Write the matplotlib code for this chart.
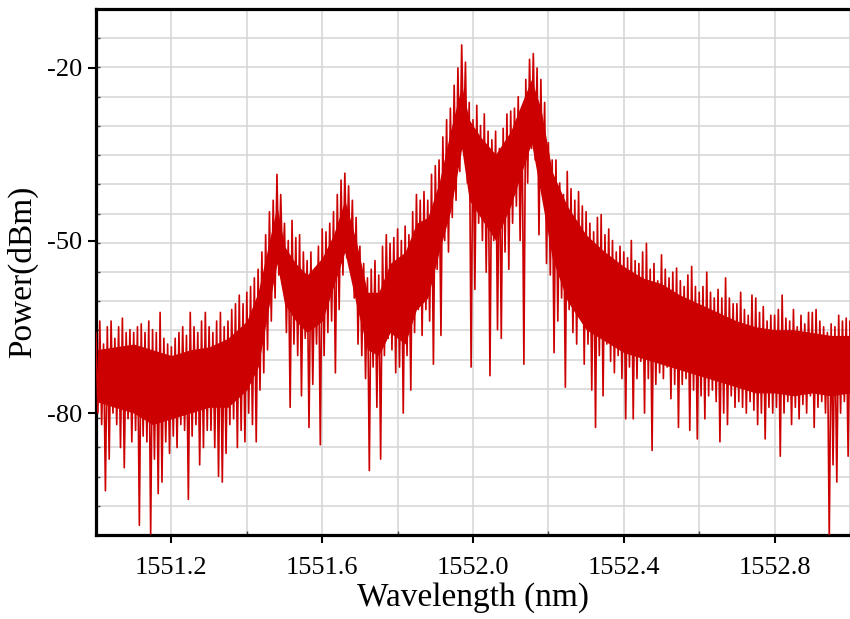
import numpy as np
import matplotlib
matplotlib.use("Agg")
import matplotlib.pyplot as plt
from matplotlib.ticker import FixedLocator, MultipleLocator

# spectrum: upper and lower edge of the noisy trace,
# one pair every 0.01 nm from 1551.00 to 1553.00 nm
p_hi = [
    -66, -64, -68, -65, -64, -67, -65, -63.5, -66, -65.5,
    -66, -65, -64.5, -66, -64, -65.5, -66, -62.5, -67, -68,
    -68.5, -67, -66, -65, -66.5, -62.5, -65, -66, -64, -62.5,
    -65, -66, -64, -62.5, -65, -64, -62, -61, -59.5, -61,
    -59, -58, -56.5, -55, -52, -49, -45, -43, -38.5, -42,
    -47, -50, -46.5, -49.5, -49, -52, -53.5, -52, -55, -51,
    -48, -48.5, -47, -45, -42, -39.5, -38.3, -40.5, -43, -46,
    -51, -54, -56.5, -55, -53.5, -56, -51, -49, -50.5, -49.5,
    -48, -50, -47.5, -49, -45, -42, -43, -41.5, -43, -38.5,
    -37, -36, -32, -29, -27, -23, -20, -16, -19, -26,
    -29, -26.5, -30, -28, -31, -32.5, -31, -34, -30.5, -28,
    -27.5, -27, -25, -28, -22, -18.5, -17.5, -20, -22, -26,
    -33, -36, -36, -40, -42, -38, -41, -43, -41.5, -44,
    -45, -47, -48.5, -46, -45.5, -49, -48, -50, -52, -51,
    -52, -53, -50, -53.5, -54, -52, -50.5, -55, -54, -57,
    -52.5, -55, -56.5, -55.5, -54.8, -57, -58, -56, -54.5, -58,
    -59, -58, -55.5, -59, -60, -58.5, -60, -56.5, -60, -61,
    -61, -59, -62, -63, -59.5, -60, -62.5, -61.5, -64, -63,
    -63, -62, -59.5, -63.5, -64, -62, -65, -63, -64.5, -62.5,
    -62.5, -62, -64, -65, -66, -64.5, -65, -63, -64, -63.5,
    -64,
]
p_lo = [
    -80, -82, -93.5, -88, -80, -82, -86, -89.5, -81, -85,
    -83, -99.5, -84, -85, -101, -88, -94, -92, -85, -87,
    -84, -86, -82, -83, -95, -84, -82, -89, -86, -83,
    -83, -86, -91, -92, -87, -82, -81, -86, -83, -85,
    -80, -82, -85, -76, -73, -69, -64, -60, -56, -55,
    -66, -79, -68, -70, -77, -67, -82.5, -75, -68, -85.5,
    -70, -66, -64, -73, -62, -56, -53, -55, -60, -68,
    -70, -74, -90, -72, -79, -88, -70, -67, -69, -73,
    -72, -80, -70, -76, -66, -62, -66.5, -62, -64, -71.5,
    -55, -66.5, -50, -52, -46, -43, -38, -33, -40, -72,
    -58.5, -47, -50, -55.5, -73.5, -50, -65.5, -67, -52, -55,
    -47, -44, -50, -71.5, -40, -34, -36, -49, -42, -54,
    -56, -69.5, -64, -60, -75.5, -62, -66, -68, -63, -71.5,
    -68, -76, -82.5, -70, -77, -68, -71, -73, -70, -74,
    -81, -72, -81, -74, -71, -80, -74, -86.5, -75, -73,
    -74, -72, -77.5, -75, -82.5, -75, -74, -83, -76, -84.5,
    -77, -81, -77, -76, -78, -85, -80, -82, -77, -79,
    -78, -79, -80, -78, -79.5, -82, -80, -84.5, -79, -80,
    -79, -87.5, -80, -78, -82, -79, -81, -78.5, -80, -77,
    -82.5, -79, -78, -80, -102, -89, -92, -80, -78, -87.5,
    -79,
]
# dense (solid) part of the trace
core_wl = [1551.00, 1551.05, 1551.10, 1551.15, 1551.20, 1551.25, 1551.30,
           1551.35, 1551.40, 1551.43, 1551.46, 1551.48, 1551.50, 1551.53,
           1551.56, 1551.60, 1551.63, 1551.66, 1551.69, 1551.72, 1551.75,
           1551.78, 1551.82, 1551.85, 1551.88, 1551.91, 1551.94, 1551.97,
           1551.99, 1552.02, 1552.06, 1552.10, 1552.13, 1552.155, 1552.18,
           1552.21, 1552.25, 1552.30, 1552.35, 1552.40, 1552.45, 1552.50,
           1552.55, 1552.60, 1552.65, 1552.70, 1552.75, 1552.80, 1552.85,
           1552.90, 1552.95, 1553.00]
core_top = [-69, -68.5, -68, -69, -70, -69, -68.5, -67, -64, -59, -50, -44, -51,
            -54, -56, -53, -49, -43, -50, -59, -59, -54, -52, -47, -46, -40,
            -31, -23, -29, -32, -35, -31, -26, -22, -27, -38, -44, -49, -52,
            -54.5, -56.5, -57.5, -59.5, -61, -62.5, -64, -65, -65.5, -65.5,
            -66, -66.5, -66.5]
core_bot = [-78, -79, -80, -82, -81, -80, -79, -79, -76, -72, -61, -54, -61,
            -64, -66, -64, -58, -52, -61, -69, -70, -66, -68, -62, -60, -52,
            -45, -34, -43, -46, -50, -44, -38, -33, -42, -53, -60.5, -65.5,
            -67.5, -69.5, -70.5, -71.5, -72.5, -73.5, -74.5, -75.5, -76.5,
            -76.5, -77, -76.5, -77, -76.5]

wl_start, wl_end = 1551.0, 1553.0
x_ticks = [1551.2, 1551.6, 1552.0, 1552.4, 1552.8]
y_ticks = [-20, -50, -80]

wl = np.linspace(wl_start, wl_end, len(p_hi))
half = (wl[1] - wl[0]) / 2

# zigzag between upper and lower edge gives the spiky fringe
x = np.empty(2 * len(wl))
y = np.empty(2 * len(wl))
x[0::2] = wl
x[1::2] = wl + half
y[0::2] = p_hi
y[1::2] = p_lo

plt.rcParams['font.family'] = ['Liberation Serif', 'DejaVu Serif']
plt.rcParams['axes.unicode_minus'] = False

fig = plt.figure(figsize=(8.5, 6.19), dpi=100)
ax = fig.add_axes([96 / 850, 1 - 535 / 619, 1 - 96 / 850, (535 - 9) / 619])

red = '#cc0000'
ax.fill_between(core_wl, core_bot, core_top, color=red, lw=0, zorder=2)
ax.plot(x, y, color=red, lw=1.2, zorder=3)

ylo, yhi = -101.2, -9.75
ax.set_xlim(wl_start, wl_end)
ax.set_ylim(ylo, yhi)

ax.xaxis.set_major_locator(FixedLocator(x_ticks))
ax.xaxis.set_minor_locator(MultipleLocator(0.2))
ax.yaxis.set_major_locator(FixedLocator(y_ticks))
ax.yaxis.set_minor_locator(FixedLocator(np.linspace(ylo, yhi, 19)))

ax.grid(True, which='both', axis='x', color='#d4d4d4', lw=1.1, zorder=0)
ax.grid(True, which='minor', axis='y', color='#d4d4d4', lw=1.1, zorder=0)
ax.set_axisbelow(True)

for side in ['left', 'bottom', 'top']:
    ax.spines[side].set_linewidth(2.3)
ax.spines['right'].set_visible(False)

ax.tick_params(which='major', direction='out', length=6, width=1.5,
               labelsize=19, colors='black')
ax.tick_params(axis='x', which='major', pad=10)
ax.tick_params(axis='y', which='major', pad=4)
ax.tick_params(which='minor', direction='in', length=3, width=1, color='#444444')
ax.tick_params(top=False, right=False)

ax.set_xlabel('Wavelength (nm)', fontsize=24, labelpad=2)
ax.set_ylabel('Power(dBm)', fontsize=24, labelpad=6)

fig.savefig('out.png', dpi=100)
